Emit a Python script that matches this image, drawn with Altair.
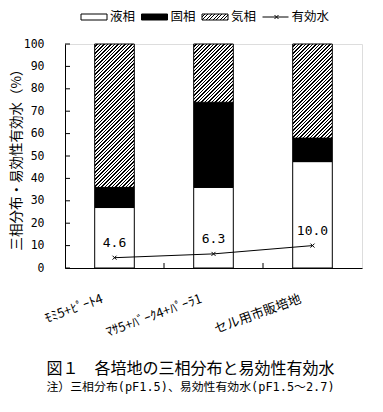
import altair as alt
import pandas as pd

# ---- data ----
categories = ["ﾓﾐ5+ﾋﾟｰﾄ4", "ﾏｻ5+ﾊﾞｰｸ4+ﾊﾟｰﾗ1", "セル用市販培地"]
liquid = [27.0, 36.0, 47.5]   # 液相
solid = [9.0, 38.0, 10.5]     # 固相
gas = [64.0, 26.0, 42.0]      # 気相
water = [4.6, 6.3, 10.0]      # 有効水
series_names = ["液相", "固相", "気相", "有効水"]
y_ticks = [0, 10, 20, 30, 40, 50, 60, 70, 80, 90, 100]
y_title = "三相分布・易効性有効水（%）"

# ---- layout / style ----
W, H = 297, 224
PAD_INNER, PAD_OUTER = 0.6, 0.3
STEP = W / (len(categories) - PAD_INNER + 2 * PAD_OUTER)
BW = STEP * (1 - PAD_INNER)
JP = "Noto Sans CJK JP"
MONO = "DejaVu Sans Mono, Noto Sans CJK JP"
SW_W, SW_H = 26, 6          # legend swatch size
LEG_Y = -27                 # legend row (pixels above plot top)
LEG_RANGE = [29, 210.5]     # legend entry centres (pixels)


def hatch(w, h, period=3.5, ink=0.42):
    """45-degree '/' hatch as a linear gradient for a box of w x h pixels."""
    total = w + h
    d = period / total
    stops = []
    t = 0.0
    while t < 1.0:
        b = min(t + d * (1 - ink), 1.0)
        c = min(t + d, 1.0)
        stops += [(t, "white"), (b, "white"), (b, "black"), (c, "black")]
        t += d
    s = w * (w + h) / (w * w + h * h)
    return alt.LinearGradient(
        gradient="linear",
        stops=[alt.GradientStop(offset=round(o, 5), color=col) for o, col in stops],
        x1=0, y1=0, x2=s, y2=s * h / w,
    )


df_liq = pd.DataFrame({"cat": categories, "y0": 0.0, "y1": liquid})
df_sol = pd.DataFrame({"cat": categories, "y0": liquid,
                       "y1": [liquid[i] + solid[i] for i in range(3)]})
df_gas = pd.DataFrame({
    "cat": categories,
    "y0": [liquid[i] + solid[i] for i in range(3)],
    "y1": [liquid[i] + solid[i] + gas[i] for i in range(3)],
})
df_water = pd.DataFrame({"cat": categories, "y0": water})
df_yt = pd.DataFrame({"y0": y_ticks})
df_xt = pd.DataFrame({"cat": categories[1:]})
df_leg = pd.DataFrame({"name": series_names})

xscale = alt.Scale(domain=categories, paddingInner=PAD_INNER, paddingOuter=PAD_OUTER)
yscale = alt.Scale(domain=[0, 100], nice=False)

xaxis = alt.Axis(title=None, ticks=False, labelAngle=-20, labelAlign="right",
                 labelBaseline="middle", labelPadding=30, labelOffset=-12,
                 labelFont=JP, labelFontSize=13, labelColor="black",
                 domainColor="black", grid=False, labelLimit=200)
yaxis = alt.Axis(title=y_title, values=y_ticks, ticks=False, labelOverlap=False,
                 labelPadding=21, labelFont="DejaVu Sans Mono",
                 labelFontSize=11.5, labelColor="black", domainColor="black",
                 grid=False, titleFont=JP, titleFontSize=13.5, titleFontWeight="normal",
                 titleColor="black", titleX=-49, titleY=H / 2, titleAngle=270,
                 titleAlign="center", titleBaseline="middle")

X = alt.X("cat:N", scale=xscale, axis=xaxis, sort=categories)
Y = alt.Y("y0:Q", scale=yscale, axis=yaxis)

liq = alt.Chart(df_liq).mark_bar(fill="white", stroke="black", strokeWidth=1).encode(
    x=X, y=Y, y2="y1:Q")
sol = alt.Chart(df_sol).mark_bar(fill="black", stroke="black", strokeWidth=1).encode(
    x=X, y=Y, y2="y1:Q")

gas_layers = []
for i, c in enumerate(categories):
    gas_layers.append(
        alt.Chart(df_gas[df_gas["cat"] == c]).mark_bar(
            fill=hatch(BW, gas[i] * H / 100.0), stroke="black", strokeWidth=1
        ).encode(x=X, y=Y, y2="y1:Q"))

ytick_rules = alt.Chart(df_yt).mark_rule(color="black", strokeWidth=1).encode(
    y=Y, x=alt.value(0), x2=alt.value(5))
xtick_rules = alt.Chart(df_xt).mark_rule(
    color="black", strokeWidth=1, xOffset=-PAD_INNER * STEP / 2).encode(
    x=alt.X("cat:N", scale=xscale, sort=categories, bandPosition=0, axis=xaxis),
    y=alt.value(H - 5), y2=alt.value(H))

line = alt.Chart(df_water).mark_line(strokeWidth=1, color="black").encode(x=X, y=Y)
pts = alt.Chart(df_water).mark_point(
    shape="M-1,-1L1,1M-1,1L1,-1", size=16, stroke="black", strokeWidth=1,
    filled=False, opacity=1).encode(x=X, y=Y)
labels = alt.Chart(df_water).mark_text(
    dy=-15, font="DejaVu Sans Mono", fontSize=13, color="black").encode(
    x=X, y=Y, text=alt.Text("y0:Q", format=".1f"))

main = alt.layer(liq, sol, *gas_layers, ytick_rules, xtick_rules, line, pts, labels)

# ---- legend row (its own point scale over the series names) ----
lx = alt.X("name:N", scale=alt.Scale(type="point", domain=series_names,
                                     range=LEG_RANGE, padding=0),
           sort=series_names, axis=None)
leg_base = alt.Chart(df_leg)
leg_plain = leg_base.transform_filter(
    alt.FieldOneOfPredicate(field="name", oneOf=["液相", "固相"])
).mark_bar(width=SW_W, stroke="black", strokeWidth=1).encode(
    x=lx, y=alt.value(LEG_Y - SW_H / 2), y2=alt.value(LEG_Y + SW_H / 2),
    fill=alt.Fill("name:N", scale=alt.Scale(domain=["液相", "固相"],
                                            range=["white", "black"]), legend=None))
leg_hatch = leg_base.transform_filter(alt.datum.name == "気相").mark_bar(
    width=SW_W, stroke="black", strokeWidth=1, fill=hatch(SW_W, SW_H)).encode(
    x=lx, y=alt.value(LEG_Y - SW_H / 2), y2=alt.value(LEG_Y + SW_H / 2))
leg_line = leg_base.transform_filter(alt.datum.name == "有効水").mark_rule(
    color="black", strokeWidth=1, xOffset=-SW_W / 2, x2Offset=SW_W / 2).encode(
    x=lx, x2="name:N", y=alt.value(LEG_Y))
leg_cross = leg_base.transform_filter(alt.datum.name == "有効水").mark_point(
    shape="M-1,-1L1,1M-1,1L1,-1", size=16, stroke="black", strokeWidth=1,
    filled=False, opacity=1, xOffset=1).encode(x=lx, y=alt.value(LEG_Y))
leg_text = leg_base.mark_text(
    align="left", baseline="middle", dx=SW_W / 2 + 3, font=JP, fontSize=12.5,
    color="black").encode(x=lx, y=alt.value(LEG_Y), text="name:N")
legend_layer = alt.layer(leg_plain, leg_hatch, leg_line, leg_cross, leg_text)

chart = alt.layer(main, legend_layer).resolve_scale(x="independent").properties(
    width=W, height=H,
    autosize=alt.AutoSizeParams(type="none"),
    padding={"left": 57, "top": 36, "right": 13, "bottom": 136},
    title=alt.TitleParams(
        text="図１　各培地の三相分布と易効性有効水",
        subtitle="注）三相分布(pF1.5)、易効性有効水(pF1.5～2.7)",
        orient="bottom", anchor="middle", offset=22, dx=-23,
        font=JP, fontSize=16, fontWeight="normal", color="black",
        subtitleFont=MONO, subtitleFontSize=11.9, subtitleColor="black",
        subtitlePadding=5,
    ),
).configure_view(stroke="#808080", strokeWidth=1).configure(background="white")

chart.save("out.html", embed_options={"renderer": "svg", "actions": False})
